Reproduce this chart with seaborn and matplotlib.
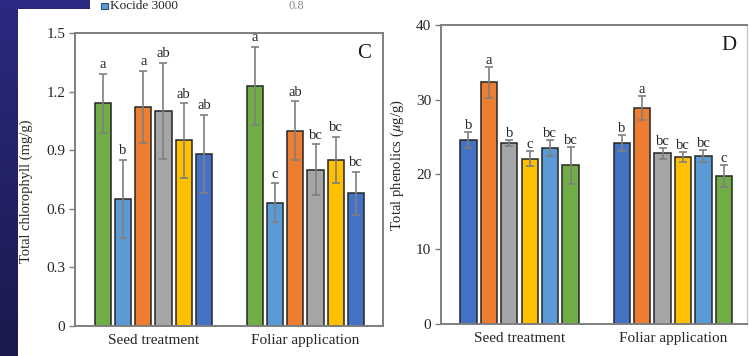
import numpy as np
import pandas as pd
import matplotlib
matplotlib.use("Agg")
import matplotlib.pyplot as plt
from matplotlib.patches import Rectangle
import seaborn as sns

sns.set_theme(style="white")
plt.rcParams["font.family"] = ["Liberation Serif", "DejaVu Serif"]
plt.rcParams["mathtext.fontset"] = "stix"

# ---- data -------------------------------------------------------------
applications = ["Seed treatment", "Foliar application"]

# Panel C: total chlorophyll (mg/g)
chl_series = ["green", "Kocide 3000", "orange", "gray", "yellow", "blue"]
chl_seed = [1.14, 0.65, 1.12, 1.10, 0.95, 0.88]
chl_seed_err = [0.15, 0.20, 0.185, 0.245, 0.19, 0.20]
chl_seed_letters = ["a", "b", "a", "ab", "ab", "ab"]
chl_foliar = [1.23, 0.63, 1.00, 0.80, 0.85, 0.68]
chl_foliar_err = [0.20, 0.10, 0.15, 0.13, 0.12, 0.11]
chl_foliar_letters = ["a", "c", "ab", "bc", "bc", "bc"]
chl_ticks = [0, 0.3, 0.6, 0.9, 1.2, 1.5]
chl_ticklabels = ["0", "0.3", "0.6", "0.9", "1.2", "1.5"]

# Panel D: total phenolics (ug/g)
phe_series = ["blue", "orange", "gray", "yellow", "Kocide 3000", "green"]
phe_seed = [24.6, 32.3, 24.2, 22.1, 23.5, 21.2]
phe_seed_err = [1.1, 2.1, 0.4, 1.0, 1.1, 2.5]
phe_seed_letters = ["b", "a", "b", "c", "bc", "bc"]
phe_foliar = [24.2, 28.9, 22.8, 22.3, 22.45, 19.8]
phe_foliar_err = [1.05, 1.6, 0.75, 0.65, 0.75, 1.5]
phe_foliar_letters = ["b", "a", "bc", "bc", "bc", "c"]
phe_ticks = [0, 10, 20, 30, 40]

palette = {
    "green": "#70ad47",
    "Kocide 3000": "#5b9bd5",
    "orange": "#ed7d31",
    "gray": "#a5a5a5",
    "yellow": "#ffc000",
    "blue": "#4472c4",
}


def frame(series, seed, foliar, seed_err, foliar_err, seed_let, foliar_let):
    rows = []
    for s, v, e, l in zip(series, seed, seed_err, seed_let):
        rows.append(dict(application=applications[0], series=s, value=v, err=e, letter=l))
    for s, v, e, l in zip(series, foliar, foliar_err, foliar_let):
        rows.append(dict(application=applications[1], series=s, value=v, err=e, letter=l))
    return pd.DataFrame(rows)


chl = frame(chl_series, chl_seed, chl_foliar, chl_seed_err, chl_foliar_err,
            chl_seed_letters, chl_foliar_letters)
phe = frame(phe_series, phe_seed, phe_foliar, phe_seed_err, phe_foliar_err,
            phe_seed_letters, phe_foliar_letters)

# ---- figure & backdrop ------------------------------------------------
fig = plt.figure(figsize=(7.49, 3.56), dpi=100)
W, H = 749.0, 356.0

bg = fig.add_axes([0, 0, 1, 1], zorder=-10)
grad = np.linspace(0, 1, 256).reshape(-1, 1)
cmap = matplotlib.colors.LinearSegmentedColormap.from_list(
    "navy", ["#2a2a82", "#1b1a4c"])
bg.imshow(grad, aspect="auto", cmap=cmap, extent=[0, 1, 0, 1], origin="upper")
bg.set_axis_off()
bg.add_patch(Rectangle((18 / W, 0), 1, 1 - 9 / H, transform=bg.transAxes,
                       facecolor="white", edgecolor="none"))
bg.add_patch(Rectangle((90 / W, 1 - 9 / H), 1, 9 / H, transform=bg.transAxes,
                       facecolor="white", edgecolor="none"))
# legend fragment along the top edge
bg.add_patch(Rectangle((101 / W, 1 - 9 / H), 7 / W, 6 / H, transform=bg.transAxes,
                       facecolor=palette["Kocide 3000"], edgecolor="#2f4f7f", lw=0.8))
bg.text(110 / W, 1 - 6 / H, "Kocide 3000", transform=bg.transAxes,
        fontsize=9.5, color="#262626", va="center", ha="left")
bg.text(296 / W, 1 - 6 / H, "0.8", transform=bg.transAxes,
        fontsize=9, color="#8c8c8c", va="center", ha="center")


def draw_panel(ax, df, order, ylim, ticks, ticklabels, ylabel, tag, pad_pts):
    sns.barplot(data=df, x="application", y="value", hue="series",
                hue_order=order, order=applications, palette=palette,
                saturation=1, errorbar=None, width=0.8, gap=0.2,
                edgecolor="#262626", linewidth=1.1, legend=False, ax=ax)
    for cont, s in zip(ax.containers, order):
        sub = df[df.series == s].set_index("application").loc[applications]
        for bar, (_, r) in zip(cont, sub.iterrows()):
            xc = bar.get_x() + bar.get_width() / 2
            ax.errorbar(xc, r.value, yerr=r.err, fmt="none", ecolor="#7f7f7f",
                        elinewidth=1.2, capsize=3, capthick=1.2, zorder=5)
            ax.annotate(r.letter, (xc, r.value + r.err), xytext=(0, pad_pts),
                        textcoords="offset points", ha="center", va="bottom",
                        fontsize=10.5, color="#262626")
    ax.set_ylim(*ylim)
    ax.set_yticks(ticks)
    ax.set_yticklabels(ticklabels)
    ax.set_xlim(-0.515, 1.51)
    ax.set_xlabel("")
    ax.set_ylabel(ylabel, fontsize=10.5, color="#262626")
    ax.tick_params(axis="y", which="both", left=True, length=4, width=1,
                   color="#7f7f7f", labelsize=11, labelcolor="#262626", pad=3)
    ax.tick_params(axis="x", length=0, labelsize=11, labelcolor="#262626", pad=6)
    for sp in ax.spines.values():
        sp.set_visible(True)
        sp.set_color("#7f7f7f")
        sp.set_linewidth(1.4)
    ax.text(0.94, 0.93, tag, transform=ax.transAxes, fontsize=15,
            ha="center", va="center", color="#1a1a1a")


axC = fig.add_axes([75 / W, 1 - 326 / H, 308 / W, 293 / H])
draw_panel(axC, chl, chl_series, (0, 1.5), chl_ticks, chl_ticklabels,
           "Total chlorophyll (mg/g)", "C", 2)
axC.yaxis.set_label_coords(-0.135, 0.46)

axD = fig.add_axes([441 / W, 1 - 323.7 / H, 306 / W, 298.7 / H])
draw_panel(axD, phe, phe_series, (0, 40), phe_ticks, [str(t) for t in phe_ticks],
           r"Total phenolics ($\mu$g/g)", "D", 0)
axD.set_xlim(-0.512, 1.484)
axD.yaxis.set_label_coords(-0.115, 0.53)
axD.spines["right"].set_color("#c8c8c8")
axD.spines["right"].set_linewidth(1.0)

fig.savefig("out.png", dpi=100)
